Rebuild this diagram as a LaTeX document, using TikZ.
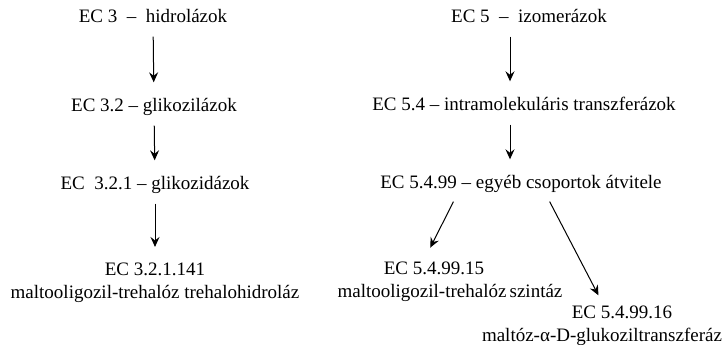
\documentclass[tikz,border=0pt]{standalone}
\usepackage{fontspec}
\setmainfont{Liberation Serif}
\usetikzlibrary{arrows.meta}
\begin{document}
\begin{tikzpicture}[x=1pt,y=-1pt,
    every node/.style={font=\fontsize{19}{23}\selectfont,inner sep=0pt},
    one/.style={text height=13pt,text depth=4pt},
    two/.style={align=center}]
      \useasboundingbox (0,0) rectangle (726,345);
      \draw
        (153,18) node[one] (3){EC 3\ \ –\ \ hidrolázok}
        (154,107) node[one] (32){EC 3.2 – glikozilázok}
        (155,185) node[one] (321){EC\ \ 3.2.1 – glikozidázok}
        (155,283) node[two] (321141){EC 3.2.1.141\\maltooligozil-trehalóz trehalohidroláz}
        (529,18) node[one] (5){EC 5\ \ –\ \ izomerázok}
        (524,106) node[one] (54){EC 5.4 – intramolekuláris transzferázok}
        (521,184) node[one] (5499){EC 5.4.99 – egyéb csoportok átvitele}
        (450,282) node[two] (549915){EC 5.4.99.15\hspace*{32pt}\\maltooligozil-trehalóz\,szintáz}
        (602,326) node[two] (549916){\hspace*{40pt}EC 5.4.99.16\\maltóz-α-D-glukoziltranszferáz};
      \begin{scope}[-{Stealth[length=10pt,width=9pt,inset=3.5pt]},line width=1pt,shorten <=10pt,shorten >=16pt]
        \draw (3) to (32);
        \draw (32) to (321);
        \draw (321) to (321141);
        \draw ([xshift=-19pt]5.south) to ([xshift=-14pt]54.north);
        \draw ([xshift=-14pt]54.south) to ([xshift=-11pt]5499.north);
        \draw ([xshift=-63pt]5499.south) to ([xshift=-27pt]549915.north);
        \draw[shorten >=12pt] ([xshift=24pt]5499.south) to ([xshift=2pt]549916.north);
      \end{scope}
    \end{tikzpicture}
\end{document}
